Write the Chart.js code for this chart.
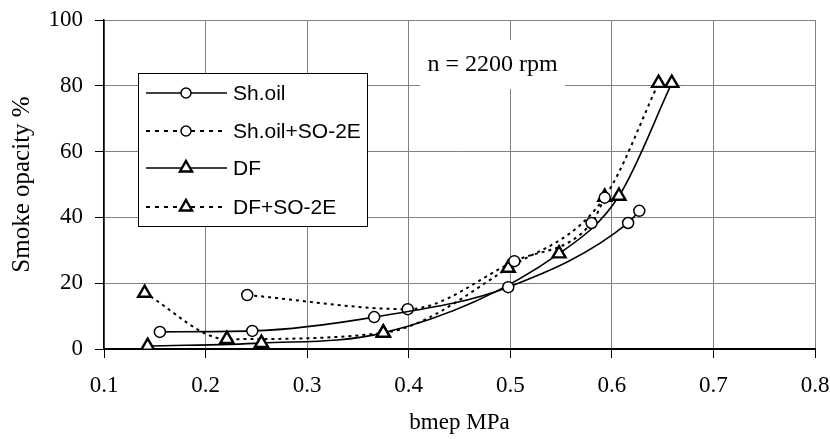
<!DOCTYPE html>
<html><head><meta charset="utf-8">
<script src="https://cdn.jsdelivr.net/npm/chart.js@4"></script>
<style>html,body{margin:0;padding:0;background:#fff}</style>
</head><body>
<canvas id="c" width="830" height="439"></canvas>
<script>
// ---- data ----
const xTicks = [0.1, 0.2, 0.3, 0.4, 0.5, 0.6, 0.7, 0.8];
const yTicks = [0, 20, 40, 60, 80, 100];
const seriesNames = ['Sh.oil', 'Sh.oil+SO-2E', 'DF', 'DF+SO-2E'];
const shOilX   = [0.155, 0.246, 0.366, 0.498, 0.616, 0.627];
const shOilY   = [5.2, 5.5, 9.7, 18.8, 38.3, 42.0];
const shOilSoX = [0.241, 0.399, 0.504, 0.580, 0.593];
const shOilSoY = [16.4, 12.1, 26.7, 38.3, 46.0];
const dfX      = [0.143, 0.255, 0.375, 0.548, 0.607, 0.659];
const dfY      = [0.9, 1.8, 4.9, 29.0, 46.5, 80.8];
const dfSoX    = [0.140, 0.221, 0.375, 0.498, 0.593, 0.646];
const dfSoY    = [17.0, 3.0, 4.9, 24.6, 46.2, 80.8];
const xTitle = 'bmep MPa';
const yTitle = 'Smoke opacity %';
const annotationText = 'n = 2200 rpm';

const pts = (xs, ys) => xs.map((x, i) => ({x: x, y: ys[i]}));
const SERIF = 'Liberation Serif';
const SANS = 'Liberation Sans';
const DOT = [3, 4];

function ds(label, data, style, dashed) {
  return {
    label: label, data: data,
    borderColor: '#000', backgroundColor: '#fff',
    borderWidth: dashed ? 2 : 1.6,
    borderDash: dashed ? DOT : [],
    pointStyle: style,
    pointRadius: style === 'circle' ? 5.5 : 7.5,
    pointBorderWidth: style === 'circle' ? 1.5 : 2.4,
    pointBorderColor: '#000', pointBackgroundColor: '#fff',
    cubicInterpolationMode: 'monotone',
    fill: false
  };
}

const datasets = [
  ds(seriesNames[0], pts(shOilX, shOilY), 'circle', false),
  ds(seriesNames[1], pts(shOilSoX, shOilSoY), 'circle', true),
  ds(seriesNames[2], pts(dfX, dfY), 'triangle', false),
  ds(seriesNames[3], pts(dfSoX, dfSoY), 'triangle', true)
];

const overlay = {
  id: 'overlay',
  afterDraw(chart) {
    const ctx = chart.ctx;
    ctx.save();
    // annotation box
    ctx.fillStyle = '#fff';
    ctx.fillRect(420, 40, 145, 49);
    ctx.fillStyle = '#000';
    ctx.font = '24px "' + SERIF + '"';
    ctx.textAlign = 'center';
    ctx.textBaseline = 'middle';
    ctx.fillText(annotationText, 492.5, 65);
    // legend
    const lx = 138.5, ly = 73.5, lw = 229, lh = 153;
    ctx.fillStyle = '#fff';
    ctx.fillRect(lx, ly, lw, lh);
    ctx.strokeStyle = '#000';
    ctx.lineWidth = 1;
    ctx.strokeRect(lx, ly, lw, lh);
    const rows = [93, 131, 168, 207];
    chart.data.datasets.forEach((d, i) => {
      const y = rows[i];
      ctx.save();
      ctx.strokeStyle = '#000';
      ctx.lineWidth = d.borderDash.length ? 2 : 1.6;
      ctx.setLineDash(d.borderDash.length ? [4, 5] : []);
      ctx.beginPath();
      ctx.moveTo(146, y); ctx.lineTo(227, y);
      ctx.stroke();
      ctx.setLineDash([]);
      ctx.fillStyle = '#fff';
      ctx.strokeStyle = '#000';
      ctx.lineWidth = d.pointBorderWidth;
      Chart.helpers.drawPoint(ctx, {pointStyle: d.pointStyle, radius: d.pointStyle === 'circle' ? 5 : 7, rotation: 0, borderWidth: d.pointBorderWidth}, 186, y);
      ctx.restore();
      ctx.fillStyle = '#000';
      ctx.font = '21px "' + SANS + '"';
      ctx.textAlign = 'left';
      ctx.textBaseline = 'middle';
      ctx.fillText(d.label, 233, y + 1);
    });
    ctx.restore();
  }
};

new Chart(document.getElementById('c'), {
  type: 'line',
  data: {datasets: datasets},
  plugins: [overlay],
  options: {
    responsive: false,
    animation: false,
    layout: {padding: {left: 0, right: 15, top: 20, bottom: 0}},
    plugins: {legend: {display: false}, tooltip: {enabled: false}},
    scales: {
      x: {
        type: 'linear', min: xTicks[0], max: xTicks[xTicks.length - 1],
        afterBuildTicks: s => { s.ticks = xTicks.map(v => ({value: v})); },
        afterFit: s => { s.height = 90; s.paddingLeft = 0; s.paddingRight = 0; },
        ticks: {callback: v => Number(v).toFixed(1), font: {family: SERIF, size: 23}, color: '#000', padding: 14, maxRotation: 0, autoSkip: false},
        grid: {color: '#808080', lineWidth: 1, tickLength: 9, tickColor: '#000'},
        border: {color: '#000', width: 2},
        title: {display: true, text: xTitle, font: {family: SERIF, size: 23}, color: '#000', padding: {top: 0, bottom: 2}}
      },
      y: {
        min: yTicks[0], max: yTicks[yTicks.length - 1],
        afterBuildTicks: s => { s.ticks = yTicks.map(v => ({value: v})); },
        afterFit: s => { s.width = 104; s.paddingTop = 0; s.paddingBottom = 0; },
        ticks: {font: {family: SERIF, size: 23}, color: '#000', padding: 12},
        grid: {color: '#808080', lineWidth: 1, tickLength: 9, tickColor: '#000'},
        border: {color: '#000', width: 1.5},
        title: {display: true, text: yTitle, font: {family: SERIF, size: 25}, color: '#000', padding: {top: 7}}
      }
    }
  }
});
</script>
</body></html>
